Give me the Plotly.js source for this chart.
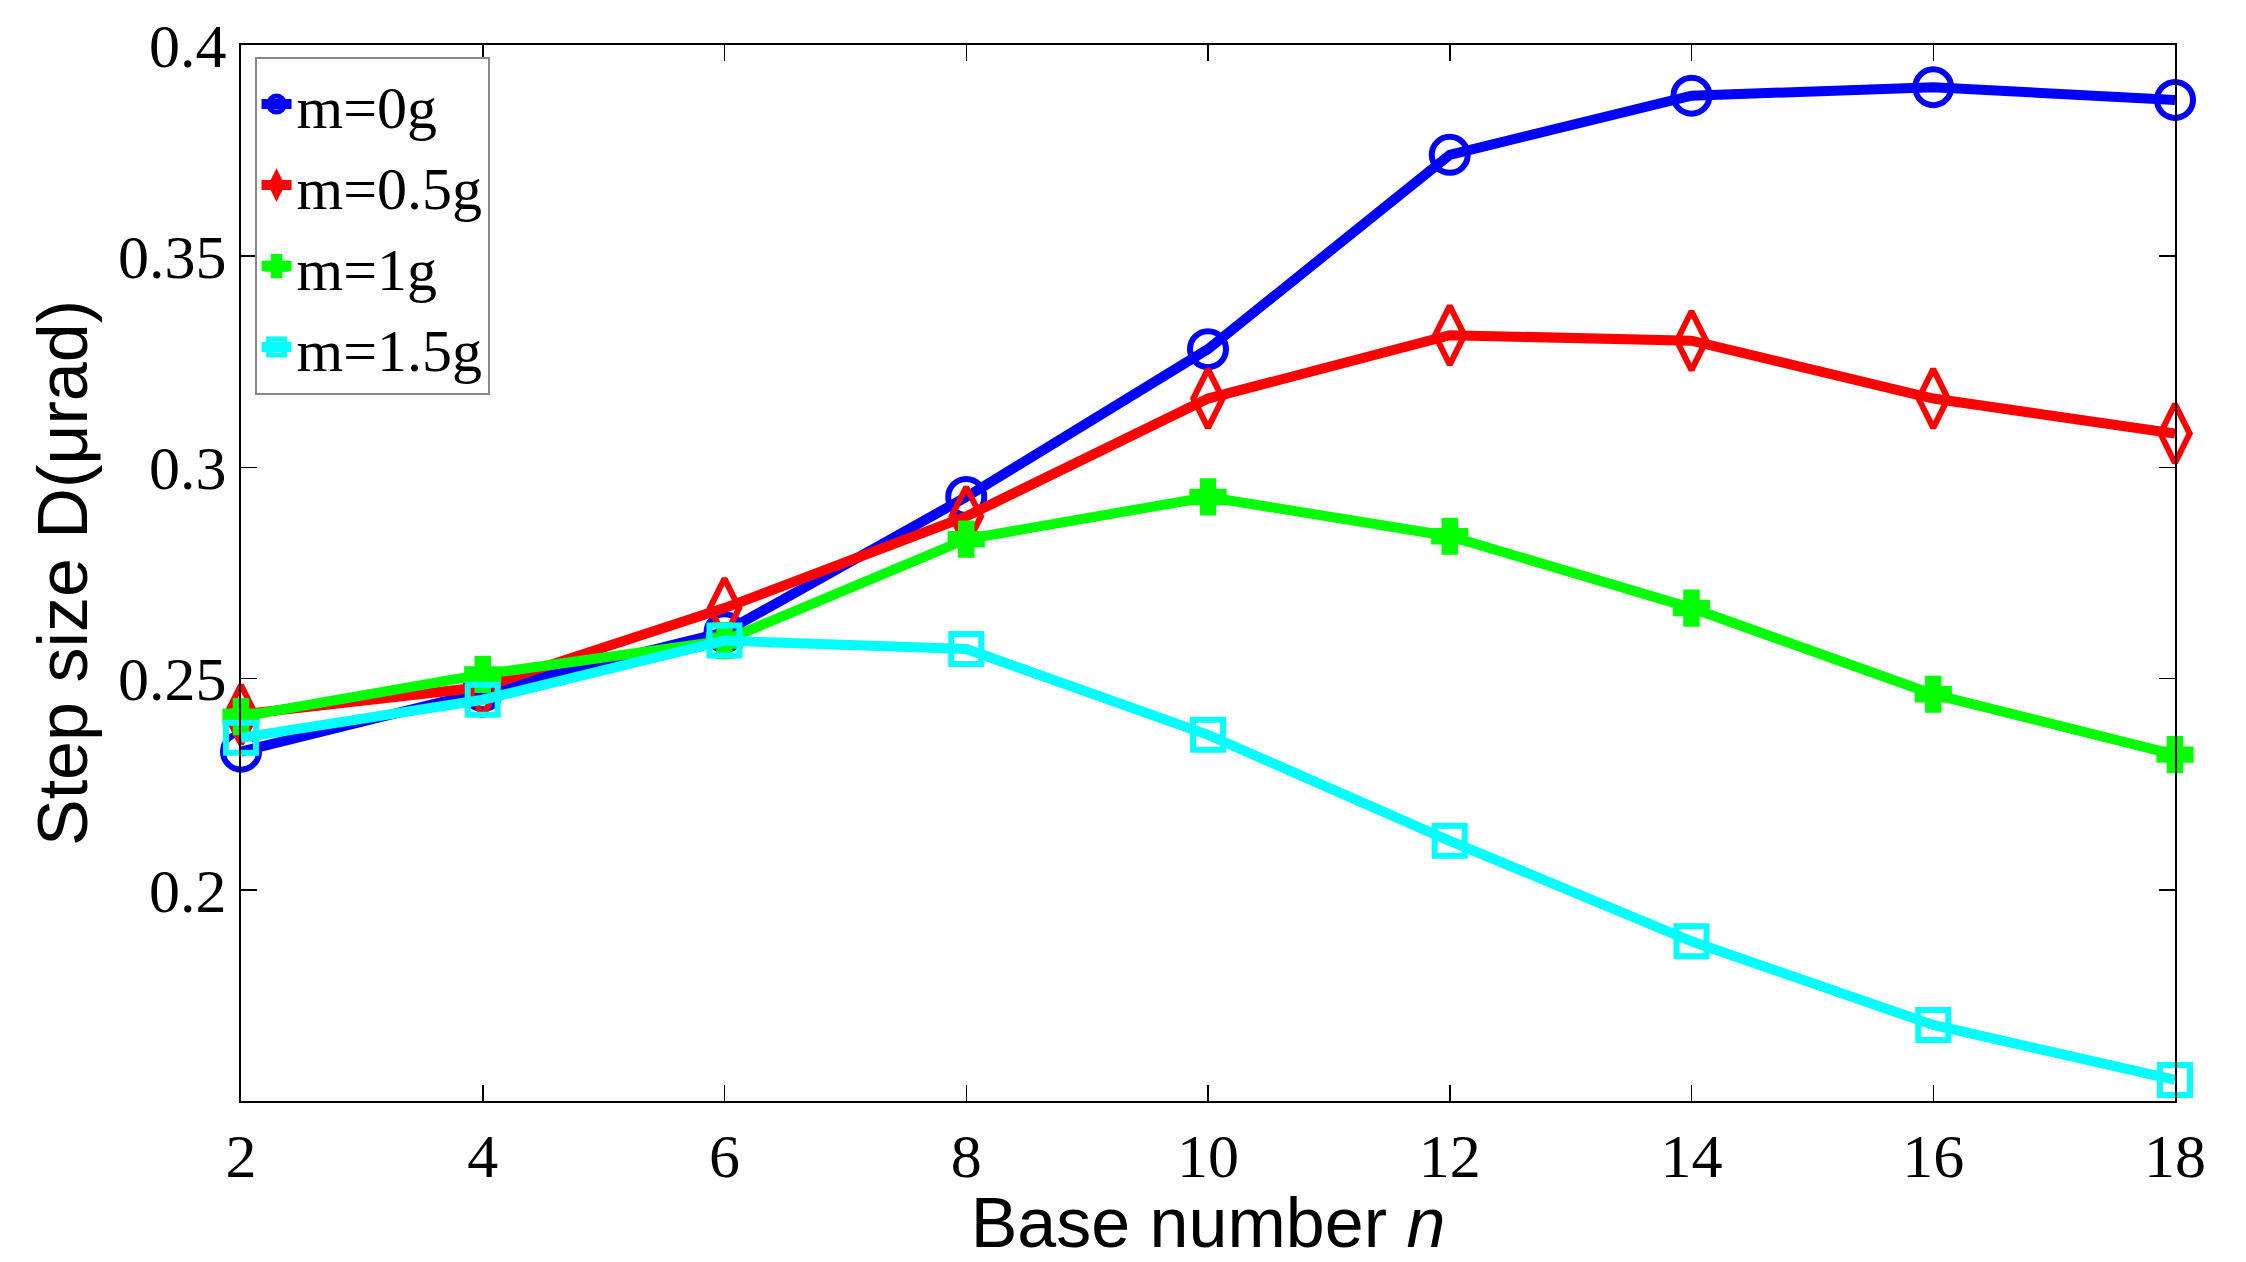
<!DOCTYPE html>
<html>
<head>
<meta charset="utf-8">
<script src="https://cdn.plot.ly/plotly-3.0.1.min.js"></script>
<style>html,body{margin:0;padding:0;background:#fff;}#chart{width:2246px;height:1262px;}</style>
</head>
<body>
<div id="chart"></div>
<script>
const baseNumbers = [2, 4, 6, 8, 10, 12, 14, 16, 18];
const m0g   = [0.2327, 0.2470, 0.2610, 0.2930, 0.3280, 0.3740, 0.3880, 0.3900, 0.3870];
const m05g  = [0.2415, 0.2480, 0.2667, 0.2884, 0.3163, 0.3313, 0.3300, 0.3163, 0.3080];
const m1g   = [0.2410, 0.2510, 0.2590, 0.2830, 0.2930, 0.2837, 0.2667, 0.2463, 0.2320];
const m15g  = [0.2360, 0.2450, 0.2590, 0.2570, 0.2367, 0.2116, 0.1878, 0.1680, 0.1550];
const seriesNames = ['m=0g', 'm=0.5g', 'm=1g', 'm=1.5g'];
const xTicks = [2, 4, 6, 8, 10, 12, 14, 16, 18];
const yTicks = [0.2, 0.25, 0.3, 0.35, 0.4];
const yTickLabels = ['0.2', '0.25', '0.3', '0.35', '0.4'];

function tr(y, name, color, symbol, msize) {
  return {
    x: baseNumbers, y: y, name: name, type: 'scatter', mode: 'lines+markers',
    cliponaxis: false,
    line: {color: color, width: 10},
    marker: {symbol: symbol, size: msize, color: color, line: {color: color, width: 6}}
  };
}
const data = [
  tr(m0g, seriesNames[0], '#0000ff', 'circle-open', 36),
  tr(m05g, seriesNames[1], '#ff0000', 'diamond-tall-open', 42),
  tr(m1g, seriesNames[2], '#00ff00', 'cross', 26),
  tr(m15g, seriesNames[3], '#00ffff', 'square-open', 30)
];
const layout = {
  width: 2246, height: 1262,
  paper_bgcolor: '#fff', plot_bgcolor: '#fff',
  margin: {l: 241, r: 71, t: 45, b: 161},
  showlegend: true,
  legend: {
    x: 0.007, y: 0.989, xanchor: 'left', yanchor: 'top',
    bgcolor: '#fff', bordercolor: '#888', borderwidth: 2,
    font: {family: 'Liberation Serif, Times New Roman, serif', size: 60, color: '#000'},
    itemwidth: 30, tracegroupgap: 0
  },
  xaxis: {
    range: [2, 18], tickvals: xTicks, ticktext: xTicks.map(String),
    showgrid: false, zeroline: false,
    showline: true, linecolor: '#000', linewidth: 2, mirror: 'ticks',
    ticks: 'inside', ticklen: 16, tickwidth: 1.5, tickcolor: '#000',
    tickfont: {family: 'Liberation Serif, Times New Roman, serif', size: 62, color: '#000'},
    title: {text: 'Base number <i>n</i>', font: {family: 'Liberation Sans, Arial, sans-serif', size: 70, color: '#000'}, standoff: 0}
  },
  yaxis: {
    range: [0.15, 0.4], tickvals: yTicks, ticktext: yTickLabels,
    showgrid: false, zeroline: false,
    showline: true, linecolor: '#000', linewidth: 2, mirror: 'ticks',
    ticks: 'inside', ticklen: 16, tickwidth: 1.5, tickcolor: '#000',
    tickfont: {family: 'Liberation Serif, Times New Roman, serif', size: 62, color: '#000'},
    title: {text: 'Step size D(μrad)', font: {family: 'Liberation Sans, Arial, sans-serif', size: 70, color: '#000'}, standoff: 8}
  }
};
Plotly.newPlot('chart', data, layout, {displayModeBar: false, staticPlot: true});
</script>
</body>
</html>
